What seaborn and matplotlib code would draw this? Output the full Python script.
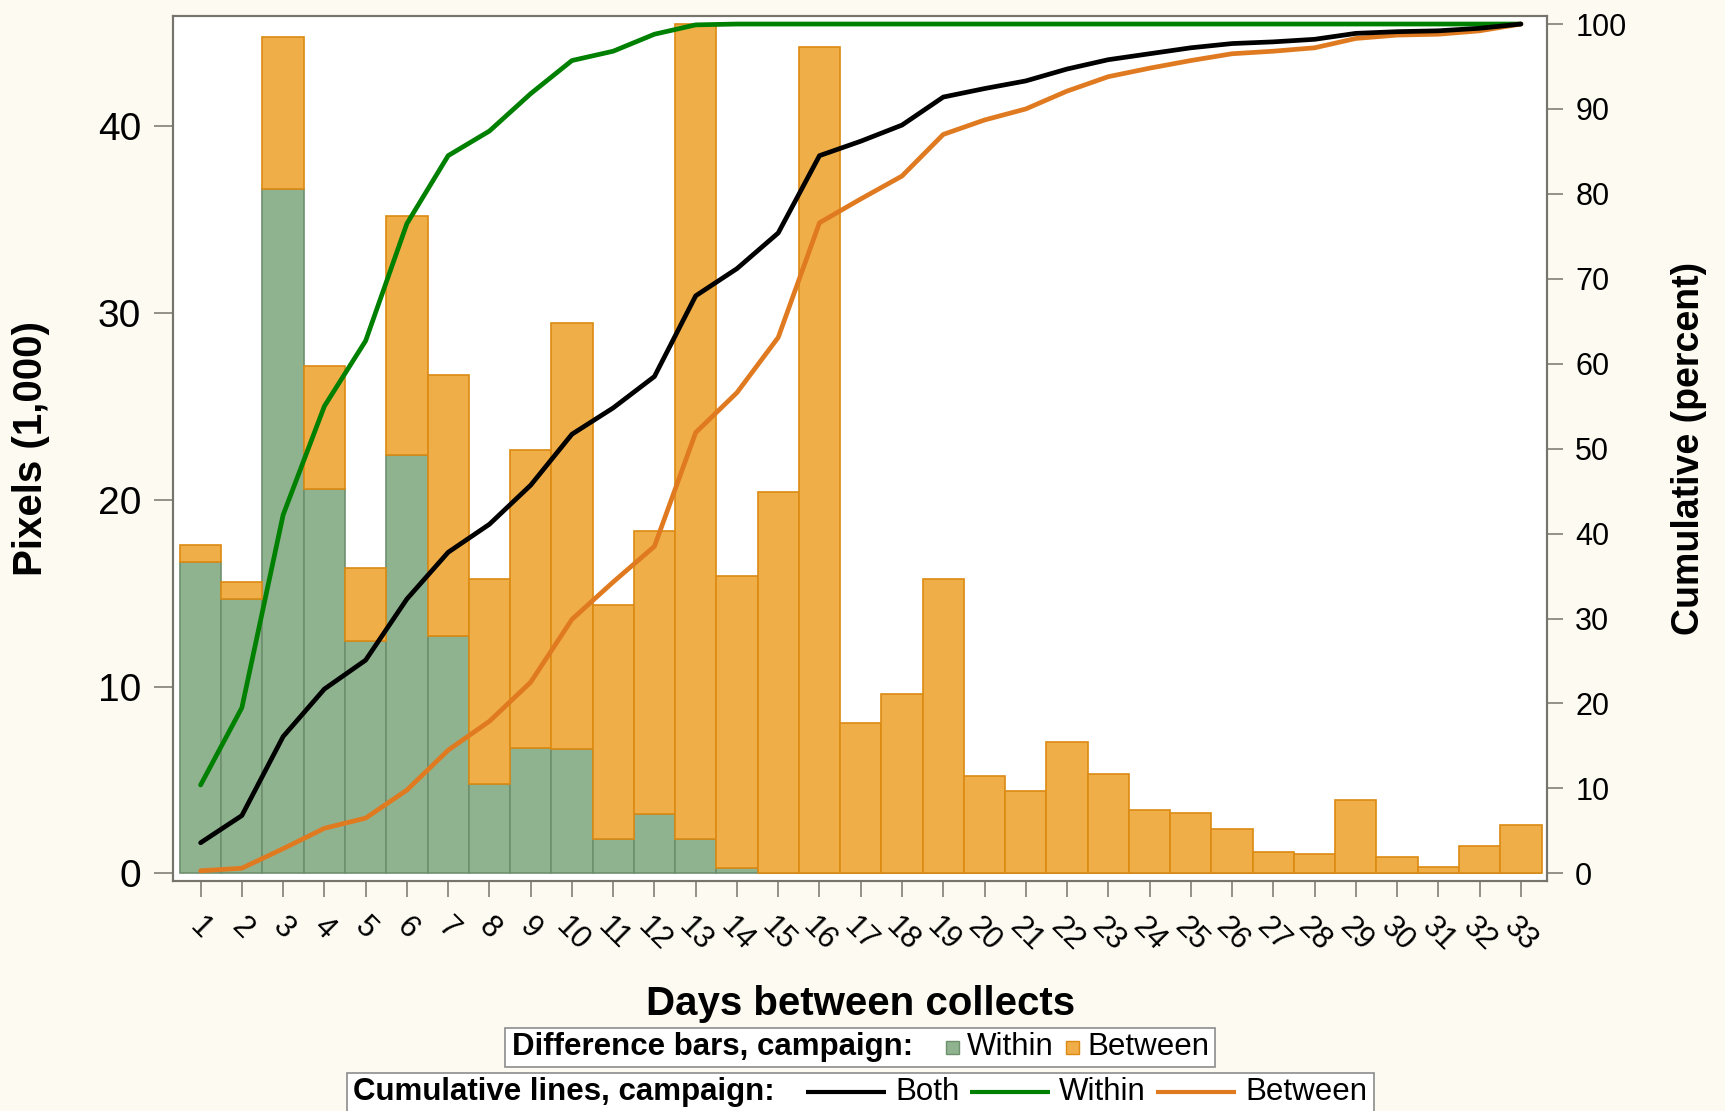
import numpy as np
import pandas as pd
import matplotlib
matplotlib.use("Agg")
import matplotlib.pyplot as plt
import seaborn as sns
from matplotlib.offsetbox import TextArea, DrawingArea, HPacker, AnchoredOffsetbox
from matplotlib.patches import Rectangle
from matplotlib.lines import Line2D

# ---------------- data ----------------
days = [1, 2, 3, 4, 5, 6, 7, 8, 9, 10, 11, 12, 13, 14, 15, 16, 17,
        18, 19, 20, 21, 22, 23, 24, 25, 26, 27, 28, 29, 30, 31, 32, 33]

# pixels (1,000) within campaign (green, bottom part of bar)
within_k = [16.64, 14.68, 36.65, 20.56, 12.43, 22.38, 12.70, 4.76, 6.72, 6.65,
            1.84, 3.19, 1.84, 0.27, 0, 0, 0, 0, 0, 0, 0, 0, 0, 0, 0, 0, 0, 0,
            0, 0, 0, 0, 0]
# pixels (1,000) between campaigns (orange, stacked on top)
between_k = [0.93, 0.89, 8.11, 6.58, 3.92, 12.79, 14.00, 10.99, 15.93, 22.83,
             12.51, 15.16, 43.63, 15.65, 20.40, 44.23, 8.06, 9.61, 15.76, 5.21,
             4.42, 7.03, 5.30, 3.39, 3.24, 2.35, 1.14, 1.05, 3.92, 0.87, 0.36,
             1.48, 2.60]

# cumulative percent lines
cum_both = [3.6, 6.8, 16.1, 21.7, 25.1, 32.3, 37.8, 41.1, 45.7, 51.7, 54.8,
            58.5, 68.0, 71.2, 75.4, 84.5, 86.2, 88.1, 91.4, 92.4, 93.3, 94.7,
            95.8, 96.5, 97.2, 97.7, 97.9, 98.2, 98.9, 99.1, 99.2, 99.5, 100.0]
cum_within = [10.4, 19.5, 42.2, 55.0, 62.7, 76.5, 84.5, 87.4, 91.8, 95.7, 96.8,
              98.8, 99.9, 100.0, 100.0, 100.0, 100.0, 100.0, 100.0, 100.0,
              100.0, 100.0, 100.0, 100.0, 100.0, 100.0, 100.0, 100.0, 100.0,
              100.0, 100.0, 100.0, 100.0]
cum_between = [0.3, 0.6, 2.9, 5.3, 6.5, 9.8, 14.5, 17.9, 22.5, 29.9, 34.3,
               38.5, 51.9, 56.6, 63.1, 76.6, 79.4, 82.1, 87.0, 88.7, 90.0,
               92.1, 93.8, 94.8, 95.7, 96.5, 96.8, 97.2, 98.3, 98.7, 98.8,
               99.2, 100.0]

left_ticks = [0, 10, 20, 30, 40]
right_ticks = [0, 10, 20, 30, 40, 50, 60, 70, 80, 90, 100]

# ---------------- style ----------------
BG = "#FDFAF2"
GREEN_FILL = "#8FB38F"
GREEN_EDGE = "#6F906F"
ORANGE_FILL = "#F0AE48"
ORANGE_EDGE = "#DC8A12"
LINE_BOTH = "#000000"
LINE_WITHIN = "#008000"
LINE_BETWEEN = "#E07A20"
AXCOL = "#77746C"

sns.set_style("ticks")
plt.rcParams['font.family'] = ['Liberation Sans', 'DejaVu Sans']
plt.rcParams['axes.edgecolor'] = AXCOL
plt.rcParams['text.color'] = 'black'
plt.rcParams['axes.labelcolor'] = 'black'
plt.rcParams['xtick.labelcolor'] = 'black'
plt.rcParams['ytick.labelcolor'] = 'black'

fig = plt.figure(figsize=(17.25, 11.11), dpi=100, facecolor=BG)
ax = fig.add_axes([0.10046, 0.20729, 0.89698 - 0.10046, 0.98587 - 0.20729])
ax.set_facecolor("white")

df = pd.DataFrame({"day": days, "within": within_k, "between": between_k})

sns.barplot(data=df, x="day", y="within", native_scale=True, width=1.0,
            color=GREEN_FILL, edgecolor=GREEN_EDGE, linewidth=1.2,
            saturation=1, errorbar=None, ax=ax)
sns.barplot(data=df, x="day", y="between", bottom=np.asarray(within_k),
            native_scale=True, width=1.0, color=ORANGE_FILL,
            edgecolor=ORANGE_EDGE, linewidth=1.2, saturation=1,
            errorbar=None, ax=ax)

ax2 = ax.twinx()
sns.lineplot(x=days, y=cum_within, color=LINE_WITHIN, lw=3.4, ax=ax2)
sns.lineplot(x=days, y=cum_between, color=LINE_BETWEEN, lw=3.4, ax=ax2)
sns.lineplot(x=days, y=cum_both, color=LINE_BOTH, lw=3.4, ax=ax2)

ax.set_xlim(0.338, 33.64)
ax.set_ylim(-0.396, 45.91)
ax2.set_ylim(-0.87, 100.98)

ax.set_xticks(days)
ax.set_xticklabels([str(d) for d in days], rotation=-45, ha="center",
                   va="top", fontsize=22, color="black")
ax.set_yticks(left_ticks)
ax.set_yticklabels([str(t) for t in left_ticks], fontsize=28, color="black")
ax2.set_yticks(right_ticks)
ax2.set_yticklabels([str(t) for t in right_ticks], fontsize=22, color="black")

ax.tick_params(axis="y", length=13.7, width=1.1, color=AXCOL, pad=9.4,
               labelcolor="black")
ax.tick_params(axis="x", length=11.5, width=1.1, color=AXCOL, pad=11,
               labelcolor="black")
ax2.tick_params(axis="y", length=11.5, width=1.1, color=AXCOL, pad=8.6,
                labelcolor="black")

for a in (ax, ax2):
    for sp in a.spines.values():
        sp.set_color(AXCOL)
        sp.set_linewidth(1.5)
        sp.set_visible(True)
    a.grid(False)

ax.set_xlabel("Days between collects", fontsize=29, fontweight="bold",
              color="black")
ax.xaxis.set_label_coords(0.5, -0.143)
ax.xaxis.label.set_va("center")
ax.set_ylabel("Pixels (1,000)", fontsize=29, fontweight="bold", color="black")
ax.yaxis.set_label_coords(-0.1036, 0.5)
ax.yaxis.label.set_va("center")
ax.yaxis.label.set_ha("center")
ax2.set_ylabel("Cumulative (percent)", fontsize=27, fontweight="bold",
               rotation=90, color="black")
ax2.yaxis.set_label_coords(1.1031, 0.5)
ax2.yaxis.label.set_va("center")
ax2.yaxis.label.set_ha("center")

# ---------------- legends ----------------
FS = 22.5


def txt(s, bold=False):
    return TextArea(s, textprops=dict(fontsize=FS,
                                      fontweight="bold" if bold else "normal",
                                      color="black"))


def gap(w):
    return DrawingArea(w, 1)


def square(fc, ec):
    da = DrawingArea(9.5, 9.5)
    da.add_artist(Rectangle((0, 0), 9.5, 9.5, facecolor=fc, edgecolor=ec, lw=1))
    return da


def lineh(c):
    da = DrawingArea(58, 10)
    da.add_artist(Line2D([0, 58], [5, 5], color=c, lw=3, solid_capstyle="butt"))
    return da


def make_box(children, ytop):
    pack = HPacker(children=children, align="center", pad=0, sep=0)
    ab = AnchoredOffsetbox(loc="upper center", child=pack, pad=0.14,
                           borderpad=0, frameon=True,
                           bbox_to_anchor=(0.4987, ytop),
                           bbox_transform=fig.transFigure,
                           prop=dict(size=FS))
    ab.patch.set_facecolor("white")
    ab.patch.set_edgecolor("#8C8C8C")
    ab.patch.set_linewidth(1.2)
    fig.add_artist(ab)
    return ab


make_box([gap(1.5), txt("Difference bars, campaign:", True), gap(23.8),
          square(GREEN_FILL, GREEN_EDGE), gap(5.8), txt("Within"), gap(8.6),
          square(ORANGE_FILL, ORANGE_EDGE), gap(5.8), txt("Between"),
          gap(1.5)], 0.07471)

make_box([gap(1.5), txt("Cumulative lines, campaign:", True), gap(22.3),
          lineh(LINE_BOTH), gap(6.5), txt("Both"), gap(7.2),
          lineh(LINE_WITHIN), gap(6.5), txt("Within"), gap(7.2),
          lineh(LINE_BETWEEN), gap(6.5), txt("Between"), gap(1.5)], 0.0342)

fig.savefig("out.png", dpi=100, facecolor=BG)
